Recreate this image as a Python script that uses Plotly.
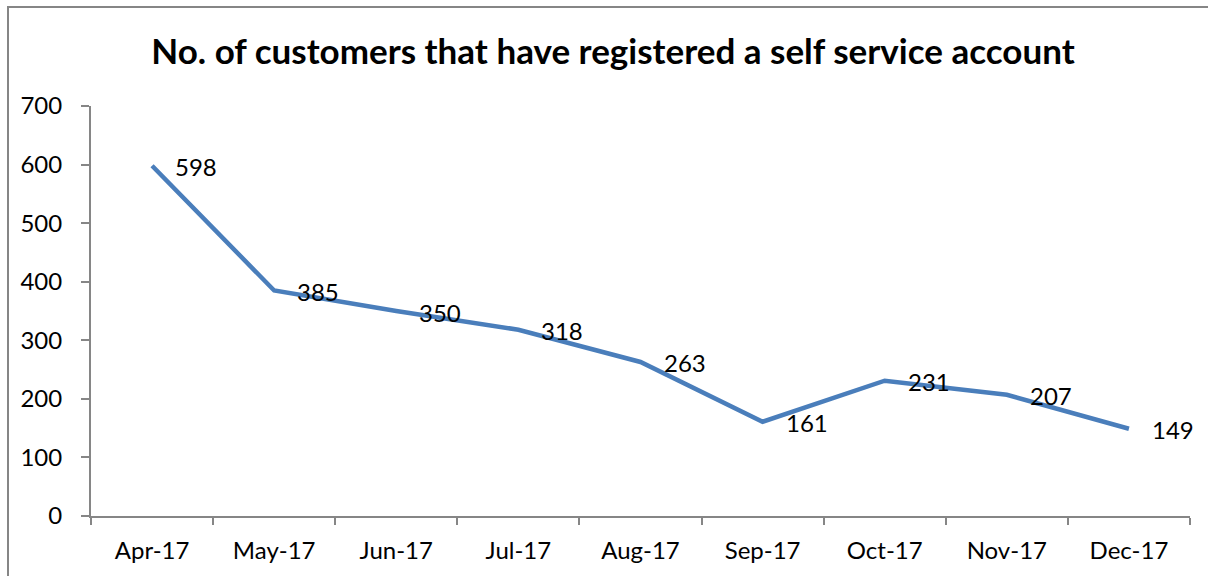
import plotly.graph_objects as go

months = ["Apr-17", "May-17", "Jun-17", "Jul-17", "Aug-17", "Sep-17", "Oct-17", "Nov-17", "Dec-17"]
customers = [598, 385, 350, 318, 263, 161, 231, 207, 149]
y_ticks = [0, 100, 200, 300, 400, 500, 600, 700]

FONT = "Lato"
L, R, T, B = 91, 1190, 106, 516
W, H = 1208, 576
pw, ph = R - L, B - T

fig = go.Figure()
fig.add_trace(go.Scatter(
    x=months, y=customers, mode="lines",
    line=dict(color="#4A7EBB", width=4.5),
    hoverinfo="skip", showlegend=False,
))
for m, v in zip(months, customers):
    fig.add_annotation(x=m, y=v, text=str(v), showarrow=False,
                       xanchor="left", yanchor="middle", xshift=21, yshift=-1,
                       font=dict(family=FONT, size=24, color="black"))

fig.update_layout(
    width=W, height=H,
    margin=dict(l=L, r=W - R, t=T, b=H - B, autoexpand=False),
    paper_bgcolor="white", plot_bgcolor="white",
    title=dict(text="<b>No. of customers that have registered a self service account</b>",
               xref="container", x=613 / W, xanchor="center",
               y=1 - 52 / H, yanchor="middle",
               font=dict(family=FONT, size=35, color="black")),
    xaxis=dict(type="category", range=[-0.5, 8.5], showgrid=False,
               showline=True, linecolor="#868686", linewidth=2,
               ticks="outside", ticklen=7, tickcolor="#868686", tickwidth=1.5,
               tickson="boundaries", ticklabelstandoff=12, automargin=False,
               tickfont=dict(family=FONT, size=24, color="black")),
    yaxis=dict(range=[0, 700], tickvals=y_ticks, showgrid=False, zeroline=False,
               showline=True, linecolor="#868686", linewidth=2,
               ticks="outside", ticklen=8, tickcolor="#868686", tickwidth=1.5,
               ticklabelstandoff=14, automargin=False,
               tickfont=dict(family=FONT, size=24, color="black")),
    shapes=[dict(type="rect", xref="paper", yref="paper",
                 x0=(8 - L) / pw, x1=(1240 - L) / pw,
                 y0=(B - 620) / ph, y1=(B - 7) / ph,
                 line=dict(color="#868686", width=2), fillcolor="rgba(0,0,0,0)")],
)
fig.write_html("out.html", config={"displayModeBar": False},
               post_script="document.body.style.margin='0';")
